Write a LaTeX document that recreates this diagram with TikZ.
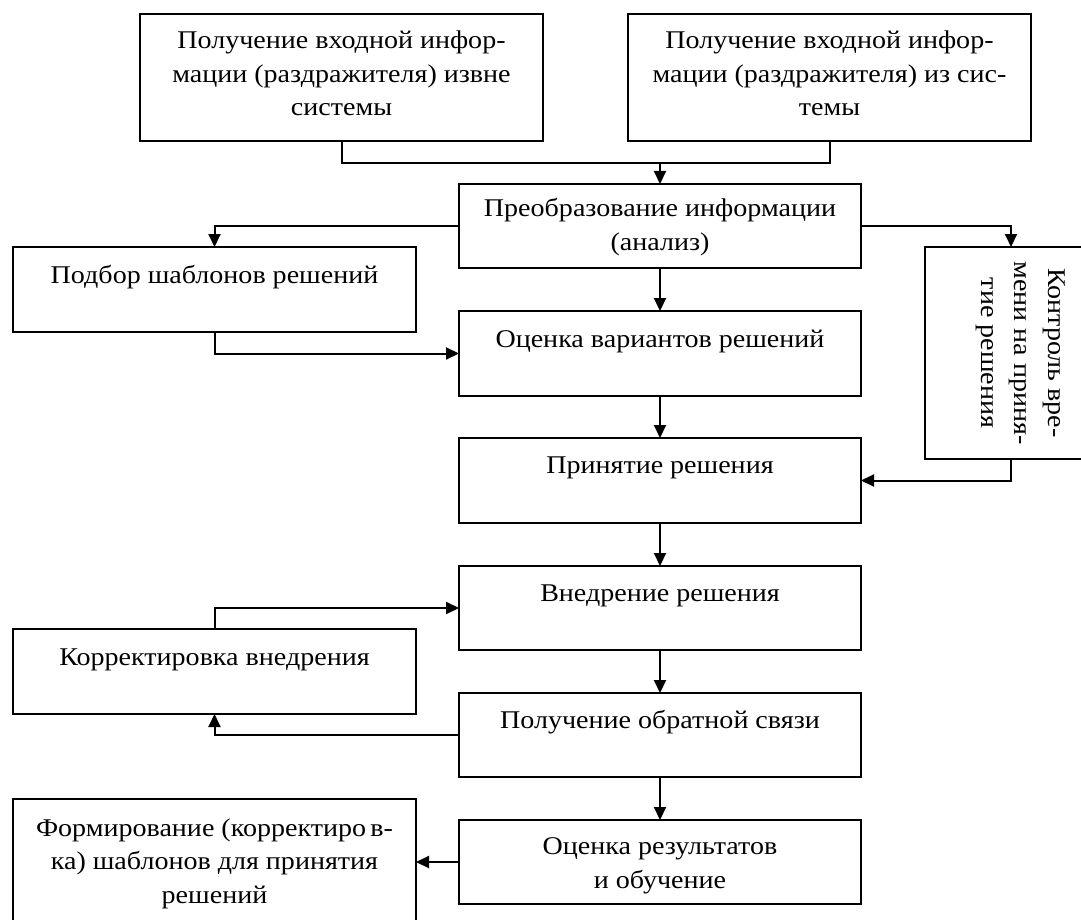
\documentclass[tikz,border=0pt]{standalone}
\usepackage{fontspec}
\setmainfont[FakeStretch=1.1]{Liberation Serif}
\usetikzlibrary{arrows.meta}
\begin{document}
\begin{tikzpicture}[x=1pt,y=-1pt,
  box/.style={draw,line width=2pt,inner sep=0pt,outer sep=0pt},
  txt/.style={anchor=base,align=center,inner sep=0pt,font=\fontsize{25.5}{33.5}\selectfont},
  conn/.style={line width=2pt},
  arr/.style={line width=2pt,-{Triangle[length=13pt,width=12pt]}}]
\useasboundingbox (0,0) rectangle (1081,920);
% boxes
\node[box,minimum width=403pt,minimum height=127pt] (A) at (341.5,77.5) {};
\node[box,minimum width=403pt,minimum height=127pt] (B) at (829.5,77.5) {};
\node[box,minimum width=402pt,minimum height=84pt] (C) at (660,226) {};
\node[box,minimum width=403pt,minimum height=85pt] (D) at (214.5,289.5) {};
\node[box,minimum width=172pt,minimum height=212pt] (E) at (1011,353) {};
\node[box,minimum width=402pt,minimum height=85pt] (F) at (660,353.5) {};
\node[box,minimum width=402pt,minimum height=85pt] (G) at (660,480.5) {};
\node[box,minimum width=402pt,minimum height=84pt] (H) at (660,608) {};
\node[box,minimum width=403pt,minimum height=85pt] (I) at (214.5,671.5) {};
\node[box,minimum width=402pt,minimum height=84pt] (J) at (660,735) {};
\node[box,minimum width=402pt,minimum height=84pt] (K) at (660,862) {};
\node[box,minimum width=403pt,minimum height=126pt] (L) at (214.5,862) {};
% texts (anchor = baseline of last line)
\node[txt] (tA) at (341.5,116) {Получение входной инфор-\\мации (раздражителя) извне\\системы};
\node[txt] (tB) at (829.5,116) {Получение входной инфор-\\мации (раздражителя) из сис-\\темы};
\node[txt] (tC) at (660,250) {Преобразование информации\\(анализ)};
\node[txt] (tD) at (214.5,283) {Подбор шаблонов решений};
\node[txt,rotate=-90] (tE) at (981,353) {Контроль вре-\\мени на приня-\\тие решения};
\node[txt] (tF) at (660,347) {Оценка вариантов решений};
\node[txt] (tG) at (660,473) {Принятие решения};
\node[txt] (tH) at (660,601) {Внедрение решения};
\node[txt] (tI) at (214.5,665) {Корректировка внедрения};
\node[txt] (tJ) at (660,728) {Получение обратной связи};
\node[txt] (tK) at (660,888) {Оценка результатов\\и обучение};
\node[txt] (tL) at (214.5,903) {Формирование (корректиро\,в-\\ка) шаблонов для принятия\\решений};
% connectors
\coordinate (j1) at (660,163);
\draw[conn] (A.south) |- (j1) -| (B.south);
\draw[arr] (j1) -- (C.north);
\draw[arr] (C.west) -| (D.north);
\draw[arr] (C.east) -| (E.north);
\draw[arr] (C.south) -- (F.north);
\draw[arr] (D.south) |- (F.west);
\draw[arr] (F.south) -- (G.north);
\draw[arr] (E.south) |- (G.east);
\draw[arr] (G.south) -- (H.north);
\draw[arr] (I.north) |- (H.west);
\draw[arr] (H.south) -- (J.north);
\draw[arr] (J.west) -| (I.south);
\draw[arr] (J.south) -- (K.north);
\draw[arr] (K.west) -- (L.east);
\end{tikzpicture}
\end{document}
